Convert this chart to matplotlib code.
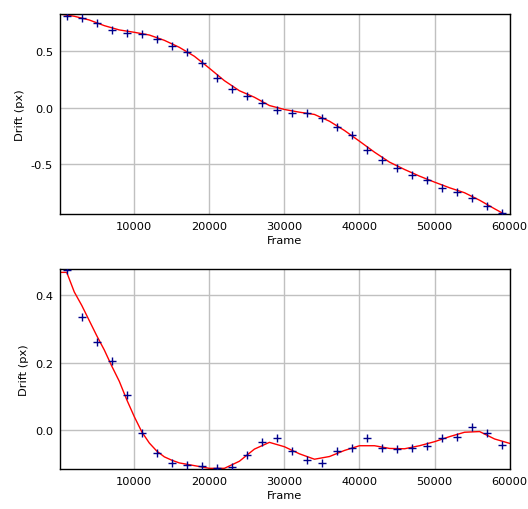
import matplotlib
matplotlib.use("Agg")
from matplotlib import pyplot as plt
from matplotlib.ticker import FormatStrFormatter, MultipleLocator

# frames of the measured points (every 2000 frames)
frames_pts = [1000 + 2000 * i for i in range(30)]

# drift points, top panel
drift_top = [0.815, 0.795, 0.75, 0.69, 0.665, 0.656, 0.606, 0.55, 0.494, 0.40,
             0.261, 0.167, 0.105, 0.045, -0.021, -0.042, -0.05, -0.086, -0.17, -0.239,
             -0.375, -0.464, -0.535, -0.594, -0.636, -0.712, -0.742, -0.795, -0.872, -0.935]

# drift points, bottom panel
drift_bot = [0.475, 0.337, 0.262, 0.206, 0.103, -0.007, -0.069, -0.096, -0.104, -0.107,
             -0.113, -0.108, -0.074, -0.034, -0.022, -0.061, -0.088, -0.096, -0.062, -0.054,
             -0.024, -0.054, -0.057, -0.054, -0.046, -0.022, -0.019, 0.01, -0.008, -0.043]

# smooth fitted curve, top panel
frames_fit = [0, 2000, 4000, 6000, 8000, 10000, 12000, 14000, 16000, 18000, 20000,
              22000, 24000, 26000, 28000, 30000, 32000, 34000, 36000, 38000, 40000,
              42000, 44000, 46000, 48000, 50000, 52000, 54000, 56000, 58000, 59400]
fit_top = [0.83, 0.81, 0.777, 0.727, 0.689, 0.668, 0.644, 0.597, 0.535, 0.456, 0.35,
           0.24, 0.151, 0.093, 0.02, -0.015, -0.039, -0.059, -0.119, -0.201, -0.296,
           -0.393, -0.481, -0.546, -0.605, -0.658, -0.708, -0.752, -0.818, -0.894, -0.945]

# smooth fitted curve, bottom panel
frames_fit_b = [0, 1000, 2000, 3000, 4000, 5000, 6000, 7000, 8000, 9000, 10000, 11000,
                12000, 13000, 14000, 15000, 16000, 18000, 20000, 22000, 24000, 26000,
                28000, 30000, 32000, 34000, 36000, 38000, 40000, 42000, 44000, 46000,
                48000, 50000, 52000, 54000, 56000, 58000, 60000]
fit_bot = [0.468, 0.468, 0.41, 0.37, 0.325, 0.28, 0.238, 0.19, 0.145, 0.09, 0.04, -0.005,
           -0.038, -0.062, -0.079, -0.089, -0.097, -0.105, -0.113, -0.113, -0.092, -0.056,
           -0.036, -0.049, -0.070, -0.086, -0.078, -0.060, -0.046, -0.046, -0.054, -0.055,
           -0.046, -0.034, -0.019, -0.006, -0.004, -0.026, -0.039]

plt.rcParams['axes.unicode_minus'] = False
plt.rcParams['font.family'] = 'DejaVu Sans'
plt.rcParams['font.size'] = 8.2

fig = plt.figure(figsize=(5.28, 5.10), dpi=100)
ax1 = fig.add_axes([60 / 528, 1 - 215 / 510, 450 / 528, 200 / 510])
ax2 = fig.add_axes([60 / 528, 1 - 470 / 510, 450 / 528, 200 / 510])

def estilo(ax, fx, fy, px, py, ylim, paso):
    ax.plot(fx, fy, color='red', lw=1.0, zorder=2)
    ax.plot(px, py, linestyle='none', marker='+', color='#00008b',
            markersize=5.5, markeredgewidth=1.0, zorder=3)
    ax.set_xlim(100, 60050)
    ax.set_ylim(*ylim)
    ax.xaxis.set_major_locator(MultipleLocator(10000))
    ax.yaxis.set_major_locator(MultipleLocator(paso))
    ax.yaxis.set_major_formatter(FormatStrFormatter('%.1f'))
    ax.grid(True, color='#c0c0c0', lw=1.0)
    ax.set_axisbelow(True)
    ax.tick_params(length=0, pad=5)
    for s in ax.spines.values():
        s.set_linewidth(1.0)
    ax.set_xlabel('Frame', labelpad=3)
    ax.set_ylabel('Drift (px)', labelpad=4)

estilo(ax1, frames_fit, fit_top, frames_pts, drift_top, (-0.94, 0.83), 0.5)
estilo(ax2, frames_fit_b, fit_bot, frames_pts, drift_bot, (-0.115, 0.478), 0.2)

fig.savefig('out.png', dpi=100)
